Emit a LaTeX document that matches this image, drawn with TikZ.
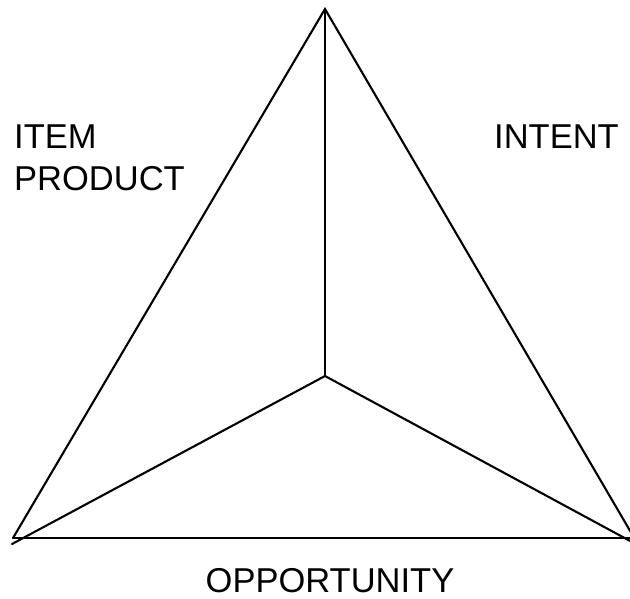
\documentclass[tikz,border=0pt]{standalone}
\usepackage{fontspec}
\setmainfont{Liberation Sans}
\begin{document}
\begin{tikzpicture}[x=1pt,y=-1pt,
  edge/.style={line width=2.1pt,line cap=round,line join=miter},
  label/.style={font=\fontsize{34.5}{42}\selectfont,inner sep=0pt,align=left}]
  \useasboundingbox (0,0) rectangle (630,598);
  \clip (0,0) rectangle (630,598);
  % corners of the triangle and its inner point
  \coordinate (top) at (325,9);
  \coordinate (mid) at (325,376);
  \coordinate (bl) at (13,538);
  \coordinate (br) at (636,541);
  \coordinate (blx) at (12,544);
  \coordinate (brx) at (632,542);
  \coordinate (bbl) at (13,538);
  \coordinate (bbr) at (632,538);
  % outer sides
  \draw[edge] (bl) -- (top) -- (br);
  \draw[edge] (bbl) -- (bbr);
  % spokes from the inner point
  \draw[edge] (top) -- (mid);
  \draw[edge] (mid) -- (blx);
  \draw[edge] (mid) -- (brx);
  % labels
  \node[label,anchor=north west] (item) at (14,125) {ITEM\\PRODUCT};
  \node[label,anchor=north west] (intent) at (494,125) {INTENT};
  \node[label,anchor=north] (opp) at (330,568) {OPPORTUNITY};
\end{tikzpicture}
\end{document}
